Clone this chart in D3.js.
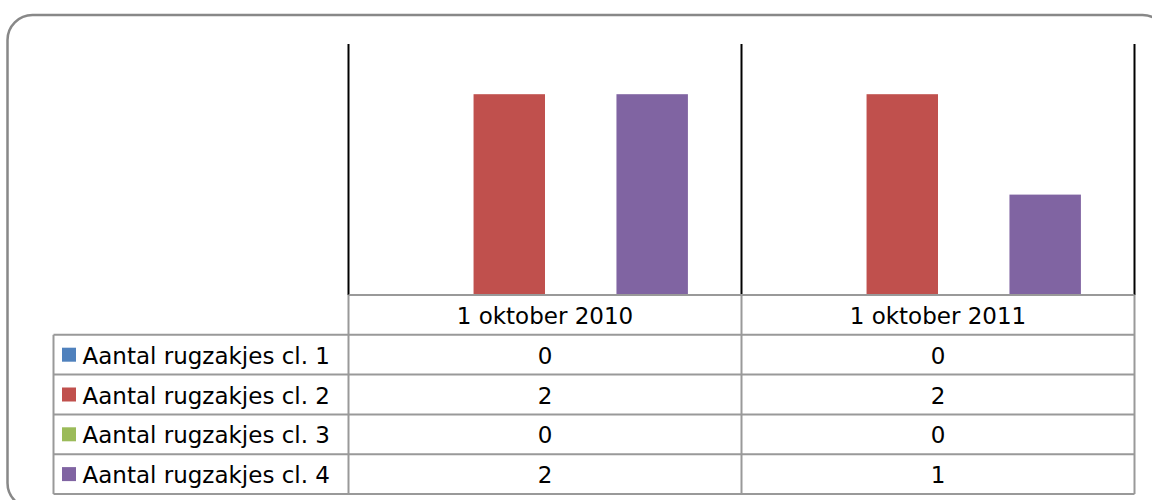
<!DOCTYPE html>
<html>
<head>
<meta charset="utf-8">
<script src="https://cdn.jsdelivr.net/npm/d3@7"></script>
<style>
  html, body { margin: 0; padding: 0; background: #fff; }
  svg { display: block; }
  text { font-family: "DejaVu Sans", sans-serif; fill: #000; }
</style>
</head>
<body>
<svg id="chart" width="1152" height="500"></svg>
<script>
const categories = ["1 oktober 2010", "1 oktober 2011"];
const seriesNames = ["Aantal rugzakjes cl. 1", "Aantal rugzakjes cl. 2", "Aantal rugzakjes cl. 3", "Aantal rugzakjes cl. 4"];
const seriesColors = ["#4F81BD", "#C0504D", "#9BBB59", "#8064A2"];
const values2010 = [0, 2, 0, 2];
const values2011 = [0, 2, 0, 1];
const yDomain = [0, 2.5];

const valuesByCat = [values2010, values2011];

const svg = d3.select("#chart");

// outer rounded frame
svg.append("rect")
  .attr("x", 7.5).attr("y", 15)
  .attr("width", 1160).attr("height", 493)
  .attr("rx", 25).attr("ry", 25)
  .attr("fill", "#fff").attr("stroke", "#888").attr("stroke-width", 2.5);

const plotLeft = 348.5, plotRight = 1134.5, plotTop = 44, plotBottom = 295;
const x0 = d3.scaleBand().domain(categories).range([plotLeft, plotRight]).padding(0);
const x1 = d3.scaleBand().domain(seriesNames).range([0, x0.bandwidth()]).paddingInner(0).paddingOuter(0.75);
const y = d3.scaleLinear().domain(yDomain).range([plotBottom, plotTop]);

// bars
const g = svg.append("g");
categories.forEach((c, ci) => {
  g.selectAll(null)
    .data(seriesNames.map((s, si) => ({ s, si, v: valuesByCat[ci][si] })))
    .enter().append("rect")
    .attr("x", d => x0(c) + x1(d.s))
    .attr("y", d => y(d.v))
    .attr("width", x1.bandwidth())
    .attr("height", d => y(0) - y(d.v))
    .attr("fill", d => seriesColors[d.si]);
});

// vertical lines (category boundaries)
const bounds = categories.map(c => x0(c)).concat([plotRight]);
svg.selectAll(null).data(bounds).enter().append("line")
  .attr("x1", d => d).attr("x2", d => d)
  .attr("y1", plotTop).attr("y2", plotBottom)
  .attr("stroke", "#000").attr("stroke-width", 2);

// data table
const tableLeft = 53.5;
const rowKeys = ["header"].concat(seriesNames);
const rowScale = d3.scaleBand().domain(rowKeys).range([plotBottom, 494]).padding(0);
const gridColor = "#999";
const tg = svg.append("g");

// horizontal lines
rowKeys.forEach((k, i) => {
  const yy = rowScale(k);
  tg.append("line")
    .attr("x1", i === 0 ? plotLeft : tableLeft).attr("x2", plotRight)
    .attr("y1", yy).attr("y2", yy)
    .attr("stroke", gridColor).attr("stroke-width", 2);
});
tg.append("line")
  .attr("x1", tableLeft).attr("x2", plotRight)
  .attr("y1", 494).attr("y2", 494)
  .attr("stroke", gridColor).attr("stroke-width", 2);
// line between header and first row starts at table left
// vertical lines
tg.append("line").attr("x1", tableLeft).attr("x2", tableLeft)
  .attr("y1", rowScale(seriesNames[0])).attr("y2", 494)
  .attr("stroke", gridColor).attr("stroke-width", 2);
bounds.forEach(b => {
  tg.append("line").attr("x1", b).attr("x2", b)
    .attr("y1", plotBottom).attr("y2", 494)
    .attr("stroke", gridColor).attr("stroke-width", 2);
});

const fs = 23;
// header labels
categories.forEach(c => {
  tg.append("text")
    .attr("x", x0(c) + x0.bandwidth() / 2)
    .attr("y", rowScale("header") + rowScale.bandwidth() / 2 + 9)
    .attr("text-anchor", "middle")
    .attr("font-size", fs)
    .text(c);
});

// series rows
seriesNames.forEach((s, si) => {
  const ry = rowScale(s);
  tg.append("rect")
    .attr("x", 62).attr("y", ry + rowScale.bandwidth() / 2 - 7)
    .attr("width", 14).attr("height", 14)
    .attr("fill", seriesColors[si]);
  tg.append("text")
    .attr("x", 82.5)
    .attr("y", ry + rowScale.bandwidth() / 2 + 9)
    .attr("font-size", fs)
    .text(s);
  categories.forEach((c, ci) => {
    tg.append("text")
      .attr("x", x0(c) + x0.bandwidth() / 2)
      .attr("y", ry + rowScale.bandwidth() / 2 + 9)
      .attr("text-anchor", "middle")
      .attr("font-size", fs)
      .text(valuesByCat[ci][si]);
  });
});
</script>
</body>
</html>
